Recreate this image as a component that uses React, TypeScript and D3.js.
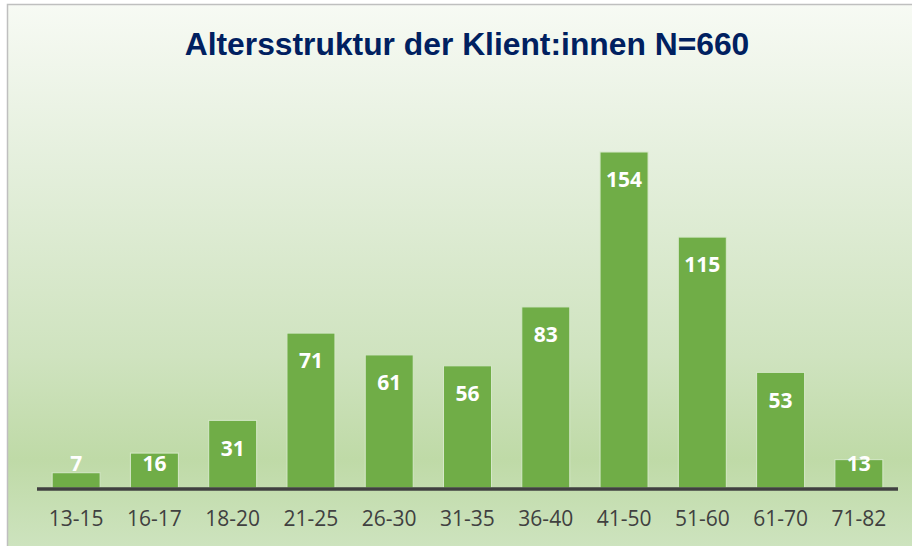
import React, { useEffect, useRef } from 'react';
import * as d3 from 'd3';

const title = 'Altersstruktur der Klient:innen N=660';
const ageGroups = ['13-15', '16-17', '18-20', '21-25', '26-30', '31-35', '36-40', '41-50', '51-60', '61-70', '71-82'];
const clientCounts = [7, 16, 31, 71, 61, 56, 83, 154, 115, 53, 13];

const App = () => {
  const svgRef = useRef<SVGSVGElement>(null);

  useEffect(() => {
    const width = 912;
    const height = 546;
    const svg = d3.select(svgRef.current);
    svg.selectAll('*').remove();

    const defs = svg.append('defs');
    const grad = defs
      .append('linearGradient')
      .attr('id', 'bg')
      .attr('gradientUnits', 'userSpaceOnUse')
      .attr('x1', 0).attr('y1', 4)
      .attr('x2', 0).attr('y2', height);
    [
      [0, '#f7faf4'],
      [0.3, '#e4efdc'],
      [0.65, '#cfe3bf'],
      [0.84, '#bfdaa7'],
      [1, '#cde3be'],
    ].forEach(([o, c]) => grad.append('stop').attr('offset', o as number).attr('stop-color', c as string));

    // chart frame (runs off the right and bottom edge)
    svg
      .append('rect')
      .attr('x', 7.5)
      .attr('y', 4.5)
      .attr('width', width + 20)
      .attr('height', height + 20)
      .attr('fill', 'url(#bg)')
      .attr('stroke', '#bfbfbf')
      .attr('stroke-width', 1.5);

    const x = d3
      .scaleBand()
      .domain(ageGroups)
      .range([37, 898])
      .paddingInner(0.387)
      .paddingOuter(0.1935);

    const y = d3.scaleLinear().domain([0, 180]).range([488, 95.3]);

    svg
      .append('text')
      .attr('x', 467)
      .attr('y', 55)
      .attr('text-anchor', 'middle')
      .attr('font-family', '"Liberation Sans", Arial, sans-serif')
      .attr('font-weight', 'bold')
      .attr('font-size', 31.8)
      .attr('fill', '#002060')
      .text(title);

    const bars = svg
      .selectAll('.bar')
      .data(clientCounts)
      .enter()
      .append('g')
      .attr('class', 'bar');

    bars
      .append('rect')
      .attr('x', (d, i) => x(ageGroups[i])!)
      .attr('y', d => y(d))
      .attr('width', x.bandwidth())
      .attr('height', d => y(0) - y(d))
      .attr('fill', '#70ad47')
      .attr('stroke', '#d5e8c8')
      .attr('stroke-width', 1);

    bars
      .append('text')
      .attr('x', (d, i) => x(ageGroups[i])! + x.bandwidth() / 2)
      .attr('y', d => Math.min(y(d) + 28, y(0) - 24))
      .attr('dy', '0.35em')
      .attr('text-anchor', 'middle')
      .attr('font-family', '"Open Sans", sans-serif')
      .attr('font-weight', 'bold')
      .attr('font-size', 21)
      .attr('fill', '#ffffff')
      .text(d => d);

    svg
      .append('line')
      .attr('x1', 37)
      .attr('x2', 898)
      .attr('y1', 489)
      .attr('y2', 489)
      .attr('stroke', '#404040')
      .attr('stroke-width', 3.5);

    svg
      .selectAll('.tick-label')
      .data(ageGroups)
      .enter()
      .append('text')
      .attr('class', 'tick-label')
      .attr('x', d => x(d)! + x.bandwidth() / 2)
      .attr('y', 519)
      .attr('dy', '0.35em')
      .attr('text-anchor', 'middle')
      .attr('font-family', '"Open Sans", sans-serif')
      .attr('font-size', 21)
      .attr('fill', '#404040')
      .text(d => d);
  }, []);

  return (
    <svg
      ref={svgRef}
      width={912}
      height={546}
      style={{ position: 'absolute', left: 0, top: 0, display: 'block' }}
    ></svg>
  );
};

export default App;
